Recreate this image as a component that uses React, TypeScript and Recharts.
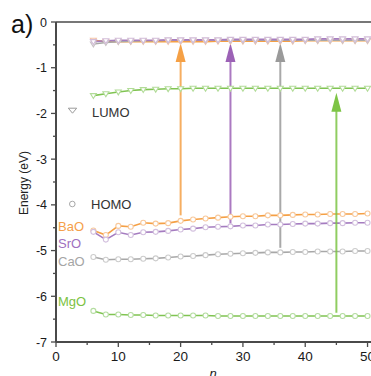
import { LineChart, Line, XAxis, YAxis, ReferenceLine } from 'recharts';

// chain length n (every 2 from 6 to 50)
const nValues = [6, 8, 10, 12, 14, 16, 18, 20, 22, 24, 26, 28, 30, 32, 34, 36, 38, 40, 42, 44, 46, 48, 50];

// HOMO levels (eV)
const homoBaO = [-4.56, -4.66, -4.46, -4.48, -4.39, -4.41, -4.40, -4.35, -4.32, -4.30, -4.28, -4.26, -4.25, -4.25, -4.23, -4.23, -4.22, -4.21, -4.21, -4.20, -4.20, -4.20, -4.19];
const homoSrO = [-4.59, -4.76, -4.60, -4.66, -4.60, -4.59, -4.57, -4.54, -4.52, -4.49, -4.48, -4.47, -4.45, -4.45, -4.43, -4.43, -4.42, -4.41, -4.41, -4.40, -4.40, -4.39, -4.39];
const homoCaO = [-5.14, -5.20, -5.19, -5.19, -5.18, -5.17, -5.15, -5.13, -5.12, -5.10, -5.08, -5.07, -5.06, -5.05, -5.04, -5.04, -5.03, -5.03, -5.02, -5.02, -5.02, -5.01, -5.01];
const homoMgO = [-6.32, -6.40, -6.40, -6.41, -6.41, -6.42, -6.42, -6.42, -6.42, -6.42, -6.43, -6.43, -6.43, -6.43, -6.43, -6.43, -6.43, -6.43, -6.43, -6.43, -6.43, -6.43, -6.43];

// LUMO levels (eV)
const lumoBaO = [-0.40, -0.43, -0.43, -0.43, -0.43, -0.43, -0.43, -0.43, -0.43, -0.43, -0.42, -0.42, -0.42, -0.42, -0.42, -0.42, -0.42, -0.41, -0.41, -0.41, -0.41, -0.41, -0.41];
const lumoSrO = [-0.43, -0.41, -0.40, -0.40, -0.40, -0.40, -0.39, -0.39, -0.39, -0.39, -0.39, -0.38, -0.38, -0.38, -0.38, -0.38, -0.38, -0.38, -0.37, -0.37, -0.37, -0.37, -0.37];
const lumoCaO = [-0.48, -0.45, -0.43, -0.42, -0.41, -0.41, -0.40, -0.40, -0.40, -0.40, -0.40, -0.40, -0.40, -0.40, -0.40, -0.40, -0.40, -0.40, -0.40, -0.40, -0.40, -0.40, -0.40];
const lumoMgO = [-1.61, -1.57, -1.53, -1.50, -1.48, -1.47, -1.46, -1.46, -1.45, -1.45, -1.45, -1.45, -1.45, -1.45, -1.45, -1.45, -1.45, -1.45, -1.45, -1.45, -1.45, -1.45, -1.45];

// excitation arrows
const arrowN = [20, 28, 36, 45];
const arrowFrom = [-4.23, -4.41, -4.94, -6.36];
const arrowTo = [-0.46, -0.46, -0.46, -1.55];
const arrowColors = ['#f5a045', '#9c62b6', '#9a9a9a', '#7dc445'];

const xTicks = [0, 5, 10, 15, 20, 25, 30, 35, 40, 45, 50];
const yTicks = [-7, -6.5, -6, -5.5, -5, -4.5, -4, -3.5, -3, -2.5, -2, -1.5, -1, -0.5, 0];

const FONT = '"Liberation Sans", Arial, sans-serif';
const AXIS = '#4a4a4a';

const data = nValues.map((n, i) => ({
  n,
  homoBaO: homoBaO[i], homoSrO: homoSrO[i], homoCaO: homoCaO[i], homoMgO: homoMgO[i],
  lumoBaO: lumoBaO[i], lumoSrO: lumoSrO[i], lumoCaO: lumoCaO[i], lumoMgO: lumoMgO[i],
}));

const series = [
  { key: 'lumoBaO', line: '#f5a045', mark: '#f4c3a8', kind: 'lumo' },
  { key: 'lumoCaO', line: '#a8a8a8', mark: '#c9c2c6', kind: 'lumo' },
  { key: 'lumoSrO', line: '#a57cc0', mark: '#d2bcd8', kind: 'lumo' },
  { key: 'lumoMgO', line: '#80c452', mark: '#b2dc98', kind: 'lumo' },
  { key: 'homoBaO', line: '#f5a045', mark: '#f8c99c', kind: 'homo' },
  { key: 'homoSrO', line: '#a57cc0', mark: '#d3c0de', kind: 'homo' },
  { key: 'homoCaO', line: '#a8a8a8', mark: '#cccccc', kind: 'homo' },
  { key: 'homoMgO', line: '#80c452', mark: '#b4dda0', kind: 'homo' },
];

const makeDot = (kind: string, color: string) => (p: any) => {
  const { cx, cy, index } = p;
  if (cx == null || cy == null) return <g key={index} />;
  if (kind === 'homo') {
    return <circle key={index} cx={cx} cy={cy} r={2.5} fill="#fff" stroke={color} strokeWidth={1.1} />;
  }
  return (
    <path key={index} d={`M${cx - 3},${cy - 2} L${cx + 3},${cy - 2} L${cx},${cy + 2.9} Z`}
      fill="#fff" stroke={color} strokeWidth={1.1} />
  );
};

const makeArrow = (color: string) => (p: any) => {
  const { x1, y1, y2 } = p;
  const tip = Math.min(y1, y2);
  const base = Math.max(y1, y2);
  return (
    <g>
      <line x1={x1} x2={x1} y1={base} y2={tip + 17} stroke={color} strokeWidth={2} strokeOpacity={0.85} />
      <polygon points={`${x1},${tip} ${x1 - 5},${tip + 19} ${x1 + 5},${tip + 19}`} fill={color} />
    </g>
  );
};

const YTick = (p: any) => {
  const { x, y, payload } = p;
  const ax = x + 8;
  const major = Number.isInteger(payload.value);
  return (
    <g>
      <line x1={ax - (major ? 5 : 3)} x2={ax} y1={y} y2={y} stroke={AXIS} strokeWidth={1.3} />
      {major && (
        <text x={x - 1} y={y} dy="0.36em" textAnchor="end" fontSize={12.5} fontFamily={FONT} fill="#1a1a1a">
          {payload.value}
        </text>
      )}
    </g>
  );
};

const XTick = (p: any) => {
  const { x, y, payload } = p;
  const ay = y - 9;
  const major = payload.value % 10 === 0;
  return (
    <g>
      <line x1={x} x2={x} y1={ay} y2={ay + (major ? 5 : 3)} stroke={AXIS} strokeWidth={1.3} />
      {major && (
        <text x={x} y={y} dy="0.72em" textAnchor="middle" fontSize={13.5} fontFamily={FONT} fill="#1a1a1a">
          {payload.value}
        </text>
      )}
    </g>
  );
};

const labels = [
  { text: 'BaO', y: 230.7, color: '#f5a04a' },
  { text: 'SrO', y: 248, color: '#a070c0' },
  { text: 'CaO', y: 266, color: '#a5a5a5' },
  { text: 'MgO', y: 306, color: '#7cc242' },
];

export default function App() {
  return (
    <div style={{ position: 'absolute', left: 0, top: 0, width: 371, height: 376, overflow: 'hidden', background: '#fff' }}>
      <LineChart width={420} height={376} data={data} margin={{ top: 22, right: 40, bottom: 4, left: 0 }}>
        <XAxis dataKey="n" type="number" domain={[0, 52]} ticks={xTicks} interval={0}
          stroke={AXIS} strokeWidth={2} tickLine={false} tickSize={6} tickMargin={3} height={30} tick={<XTick />} />
        <YAxis type="number" domain={[-7, 0]} ticks={yTicks} interval={0}
          stroke={AXIS} strokeWidth={2} tickLine={false} tickSize={5} tickMargin={3} width={56} tick={<YTick />} />
        <ReferenceLine y={0} stroke={AXIS} strokeWidth={1.6} />
        {series.map((s) => (
          <Line key={s.key} dataKey={s.key} type="linear" stroke={s.line} strokeWidth={1.6}
            dot={makeDot(s.kind, s.mark)} activeDot={false} isAnimationActive={false} />
        ))}
        {arrowN.map((n, i) => (
          <ReferenceLine key={n} segment={[{ x: n, y: arrowFrom[i] }, { x: n, y: arrowTo[i] }]}
            stroke={arrowColors[i]} shape={makeArrow(arrowColors[i])} />
        ))}
      </LineChart>
      <svg width={371} height={376} style={{ position: 'absolute', left: 0, top: 0, pointerEvents: 'none' }}>
        <text x={11} y={33} fontSize={25} fontFamily={FONT} fill="#111">a)</text>
        <text transform="translate(27.5,183) rotate(-90)" textAnchor="middle" fontSize={12} fontFamily={FONT} fill="#222">
          Energy (eV)
        </text>
        <text x={213} y={378} textAnchor="middle" fontSize={13} fontStyle="italic" fontFamily={FONT} fill="#222">n</text>
        <path d="M68.3,108.2 L76.7,108.2 L72.5,113.2 Z" fill="#fff" stroke="#9a9a9a" strokeWidth={1} />
        <text x={92} y={116.5} fontSize={13} fontFamily={FONT} fill="#333">LUMO</text>
        <circle cx={72.3} cy={204} r={2.8} fill="#fff" stroke="#a8a8a8" strokeWidth={1} />
        <text x={91} y={209} fontSize={13} fontFamily={FONT} fill="#333">HOMO</text>
        {labels.map((l) => (
          <text key={l.text} x={58} y={l.y} fontSize={13} fontFamily={FONT} fill={l.color}>{l.text}</text>
        ))}
      </svg>
    </div>
  );
}
